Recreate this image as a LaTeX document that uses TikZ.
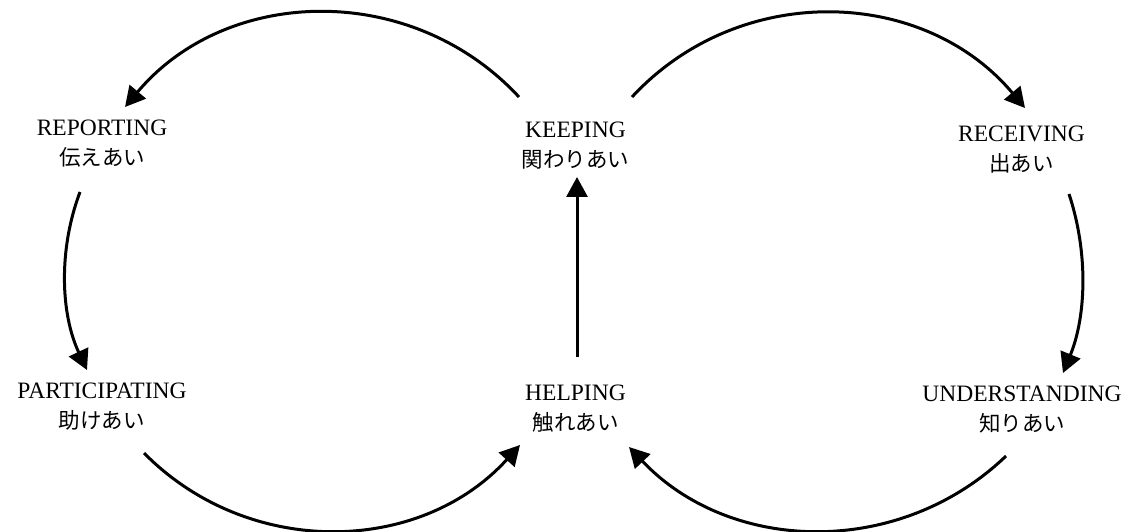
\documentclass[tikz,border=0pt]{standalone}
\usepackage{fontspec}
\setmainfont{Liberation Serif}
\newfontfamily\jpfont{Noto Sans CJK JP}
\usetikzlibrary{arrows.meta}
\tikzset{
  lbl/.style={align=center, inner sep=0pt, font=\fontsize{23.5}{30}\selectfont},
  arr/.style={line width=3pt, -{Triangle[length=20pt,width=21pt]}}
}
\newcommand{\jp}[1]{{\jpfont\fontsize{21.5}{30}\selectfont #1}}
\begin{document}
\begin{tikzpicture}[x=1pt,y=-1pt]
\useasboundingbox (0,0) rectangle (1128,532);
\node[lbl] (rep)  at (102,144)    {REPORTING\\\jp{伝えあい}};
\node[lbl] (keep) at (575.5,146)  {KEEPING\\\jp{関わりあい}};
\node[lbl] (recv) at (1021.5,150) {RECEIVING\\\jp{出あい}};
\node[lbl] (part) at (102,406.5)  {PARTICIPATING\\\jp{助けあい}};
\node[lbl] (help) at (575.5,409)  {HELPING\\\jp{触れあい}};
\node[lbl] (und)  at (1022,410)   {UNDERSTANDING\\\jp{知りあい}};
% KEEPING -> REPORTING
\draw[arr] ([shift={(-56.5,-49)}]keep.center) .. controls +(-107.4,-115.9) and +(101.5,-121.1) .. ([shift={(23,-37)}]rep.center);
% KEEPING -> RECEIVING
\draw[arr] ([shift={(56.5,-49)}]keep.center) .. controls +(107.4,-115.9) and +(-101.5,-121.1) .. ([shift={(3.5,-42)}]recv.center);
% REPORTING -> PARTICIPATING
\draw[arr] ([shift={(-22,48)}]rep.center) .. controls +(-21.8,57.8) and +(-26.3,-55.9) .. ([shift={(-15,-36.5)}]part.center);
% RECEIVING -> UNDERSTANDING
\draw[arr] ([shift={(47.5,44)}]recv.center) .. controls +(19.4,58.5) and +(23.3,-57.0) .. ([shift={(41,-37)}]und.center);
% PARTICIPATING -> HELPING
\draw[arr] ([shift={(42,46.5)}]part.center) .. controls +(104.3,105.8) and +(-99.8,110.1) .. ([shift={(-55.5,36)}]help.center);
% UNDERSTANDING -> HELPING
\draw[arr] ([shift={(-16,46)}]und.center) .. controls +(-106.4,102.2) and +(101.4,107.1) .. ([shift={(53.5,38)}]help.center);
% HELPING -> KEEPING
\draw[arr] ([shift={(1.5,-52)}]help.center) -- ([shift={(1.5,31)}]keep.center);
\end{tikzpicture}
\end{document}
